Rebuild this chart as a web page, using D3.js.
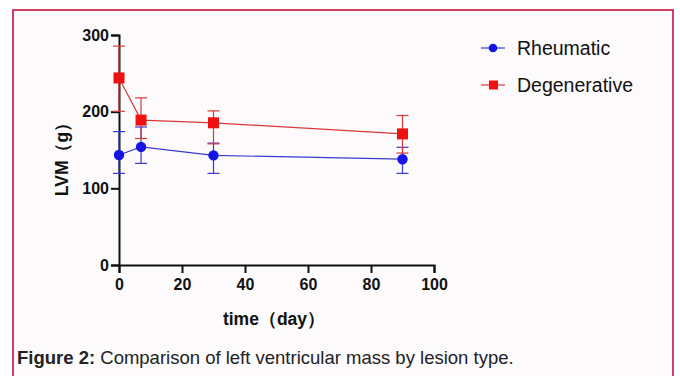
<!DOCTYPE html>
<html><head><meta charset="utf-8">
<script src="https://cdn.jsdelivr.net/npm/d3@7"></script>
<style>body{margin:0;background:#fff;}svg{display:block;font-family:"Liberation Sans",Arial,sans-serif;}</style>
</head><body><svg id="c" width="680" height="376"></svg>
<script>
const days = [0, 7, 30, 90];
const rheumaticMean = [143.5, 154, 143, 138];
const rheumaticUpper = [174, 180, 159, 153.5];
const rheumaticLower = [119.5, 132.5, 119.5, 119.5];
const degenerativeMean = [244, 189, 185.5, 171];
const degenerativeUpper = [285.5, 218, 201, 195];
const degenerativeLower = [200.5, 165, 158, 146];
const xTicks = [0, 20, 40, 60, 80, 100];
const yTicks = [0, 100, 200, 300];
const seriesNames = ["Rheumatic", "Degenerative"];

const svg = d3.select("#c");
svg.append("rect").attr("x",13).attr("y",10).attr("width",660).attr("height",380)
  .attr("fill","#fcfafb").attr("stroke","#c5123f").attr("stroke-width",1.6);

const x = d3.scaleLinear().domain([0,100]).range([119,434]);
const y = d3.scaleLinear().domain([0,300]).range([265,35]);

const xa = svg.append("g").attr("transform","translate(0,265)")
  .call(d3.axisBottom(x).tickValues(xTicks).tickSize(8).tickPadding(6));
const ya = svg.append("g").attr("transform","translate(119,0)")
  .call(d3.axisLeft(y).tickValues(yTicks).tickSize(8).tickPadding(2));
[xa,ya].forEach(g=>{
  g.select(".domain").attr("stroke","#111").attr("stroke-width",2);
  g.selectAll(".tick line").attr("stroke","#111").attr("stroke-width",2);
  g.selectAll(".tick text").attr("fill","#111").style("font-size","16px").style("font-weight","bold")
    .style("font-family","'Liberation Sans',Arial,sans-serif");
});
svg.append("text").attr("x",274).attr("y",325).attr("text-anchor","middle")
  .style("font-size","17.5px").style("font-weight","bold").attr("fill","#111").text("time（day）");
svg.append("text").attr("transform","translate(68,155) rotate(-90)").attr("text-anchor","middle")
  .style("font-size","17.5px").style("font-weight","bold").attr("fill","#111").text("LVM（g）");

const series = [
  {name:seriesNames[0], mean:rheumaticMean, up:rheumaticUpper, lo:rheumaticLower, color:"#1414e6", errColor:"#3a3ad0", shape:"circle"},
  {name:seriesNames[1], mean:degenerativeMean, up:degenerativeUpper, lo:degenerativeLower, color:"#ee1111", errColor:"#d83a3a", shape:"square"}
];
const line = d3.line().x(d=>x(d.t)).y(d=>y(d.m));
series.forEach(s=>{
  const pts = days.map((d,i)=>({t:d, m:s.mean[i], u:s.up[i], l:s.lo[i]}));
  const g = svg.append("g");
  pts.forEach(p=>{
    const xp=x(p.t);
    g.append("line").attr("x1",xp).attr("x2",xp).attr("y1",y(p.l)).attr("y2",y(p.u))
      .attr("stroke",s.errColor).attr("stroke-width",1.2);
    [p.l,p.u].forEach(v=>g.append("line").attr("x1",xp-6).attr("x2",xp+6)
      .attr("y1",y(v)).attr("y2",y(v)).attr("stroke",s.errColor).attr("stroke-width",1.2));
  });
  g.append("path").datum(pts).attr("d",line).attr("fill","none").attr("stroke",s.errColor).attr("stroke-width",1.2);
  pts.forEach(p=>{
    if(s.shape==="circle") g.append("circle").attr("cx",x(p.t)).attr("cy",y(p.m)).attr("r",5.2).attr("fill",s.color);
    else g.append("rect").attr("x",x(p.t)-5.5).attr("y",y(p.m)-5.5).attr("width",11).attr("height",11).attr("fill",s.color);
  });
});

// legend
series.forEach((s,i)=>{
  const ly = 48 + i*37;
  svg.append("line").attr("x1",481).attr("x2",505).attr("y1",ly).attr("y2",ly).attr("stroke",s.errColor).attr("stroke-width",1.2);
  if(s.shape==="circle") svg.append("circle").attr("cx",493).attr("cy",ly).attr("r",4.3).attr("fill",s.color);
  else svg.append("rect").attr("x",489).attr("y",ly-4.5).attr("width",9).attr("height",9).attr("fill",s.color);
  svg.append("text").attr("x",517).attr("y",ly+7).style("font-size","19.5px").attr("fill","#111").text(s.name);
});

const cap = svg.append("text").attr("x",17).attr("y",364).style("font-size","18.5px").attr("fill","#222");
cap.append("tspan").style("font-weight","bold").text("Figure 2:");
cap.append("tspan").text(" Comparison of left ventricular mass by lesion type.");
</script></body></html>
